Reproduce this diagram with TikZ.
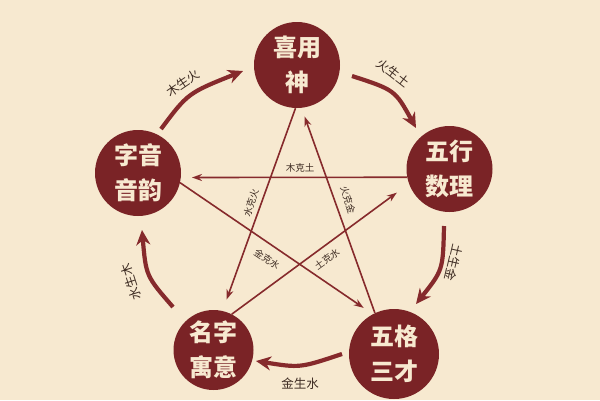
\documentclass[tikz,border=0pt]{standalone}
\usepackage{fontspec}
\newfontfamily\cjk{Noto Sans CJK SC}
\usetikzlibrary{arrows.meta}
\definecolor{zhuhong}{HTML}{7A2326}
\definecolor{xianhong}{HTML}{862A2C}
\definecolor{mizhi}{HTML}{F7E9D0}
\definecolor{mohei}{HTML}{3D2B22}
\tikzset{
  wheel/.style={circle, fill=zhuhong, minimum size=86pt, inner sep=0pt, text=mizhi, align=center,
    font=\cjk\bfseries\fontsize{24}{35}\selectfont},
  sheng/.style={draw=xianhong, line width=4.2pt, -{Stealth[length=15pt,width=14pt]}},
  ke/.style={draw=xianhong, line width=1.6pt, -{Stealth[length=10pt,width=7pt]}},
  shenglabel/.style={text=mohei, inner sep=1pt, font=\cjk\fontsize{12.5}{13}\selectfont},
  kelabel/.style={text=mohei, inner sep=1pt, font=\cjk\fontsize{9.5}{10}\selectfont}
}

\begin{document}
\begin{tikzpicture}[x=1pt,y=-1pt]
\fill[mizhi] (0,0) rectangle (600,400);       %画背景;
\useasboundingbox (0,0) rectangle (600,400);

\node[wheel] (xiyong) at (297,65) {喜用\\神};       %五个圆;
\node[wheel] (ziyin) at (138,173) {字音\\音韵};
\node[wheel] (wuxing) at (449.5,169) {五行\\数理};
\node[wheel, minimum size=80pt] (mingzi) at (213.5,350) {名字\\寓意};
\node[wheel, minimum size=90pt] (wuge) at (394,354) {五格\\三才};

%相生:外圈弧形箭头;
\coordinate (muA) at (161,129);  \coordinate (muB) at (243,71);
\coordinate (huoA) at (352,76);  \coordinate (huoB) at (416,128);
\coordinate (tuA) at (444,226);  \coordinate (tuB) at (416,304);
\coordinate (jinA) at (342,354); \coordinate (jinB) at (256,361);
\coordinate (shuiA) at (173,307); \coordinate (shuiB) at (142,230);
\draw[sheng] (muA) .. controls (188,93) .. (muB);
\draw[sheng] (huoA) .. controls (395,90) .. (huoB);
\draw[sheng] (tuA) .. controls (443,270) .. (tuB);
\draw[sheng] (jinA) .. controls (300,368) .. (jinB);
\draw[sheng] (shuiA) .. controls (146,276) .. (shuiB);
\node[shenglabel, rotate=34] (mushenghuo) at (183,83) {木生火};
\node[shenglabel, rotate=-38] (huoshengtu) at (393,73) {火生土};
\node[shenglabel, rotate=-103] (tushengjin) at (454,263) {土生金};
\node[shenglabel] (jinshengshui) at (300,384) {金生水};
\node[shenglabel, rotate=108] (shuishengmu) at (131,282) {水生木};

%相克:内部五角星;
\draw[ke, shorten >=12pt] (xiyong.-92) -- (mingzi.77);
\draw[ke, shorten >=9pt] (wuge.115) -- (xiyong.-84);
\draw[ke, shorten >=11pt] (wuxing.191) -- (ziyin.-6);
\draw[ke, shorten >=11pt] (ziyin.-13) -- (wuge.118);
\draw[ke, shorten >=15pt] (mingzi.63) -- (wuxing.200);
\node[kelabel] (muketu) at (300,168) {木克土};
\node[kelabel, rotate=72] (shuikehuo) at (251,203) {水克火};
\node[kelabel, rotate=-73] (huokejin) at (348,200) {火克金};
\node[kelabel, rotate=-34] (jinkeshui) at (267,259) {金克水};
\node[kelabel, rotate=36] (tukeshui) at (327,259) {土克水};
\end{tikzpicture}
\end{document}
